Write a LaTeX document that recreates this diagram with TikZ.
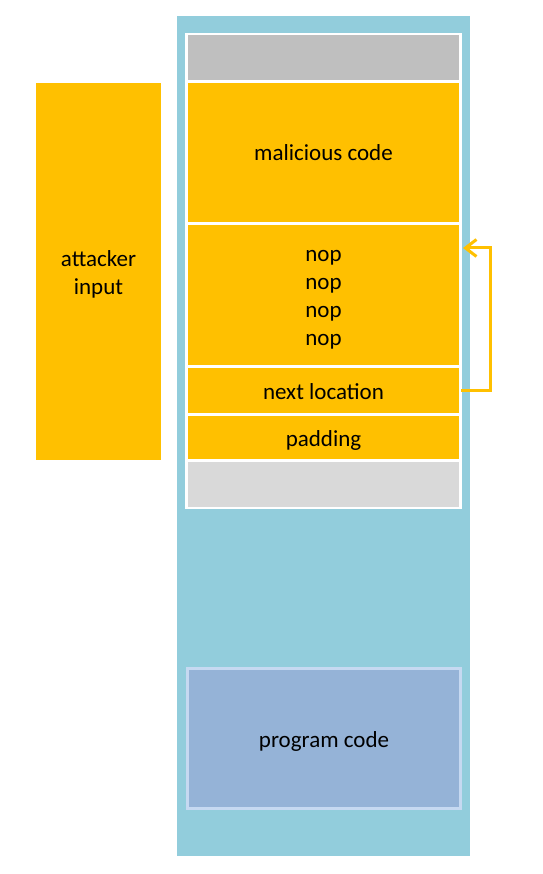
\documentclass[tikz,border=0pt]{standalone}
\usepackage{fontspec}
\setmainfont{Carlito}
\usetikzlibrary{arrows.meta,calc}
\definecolor{gold}{HTML}{FFC000}
\definecolor{panel}{HTML}{92CDDC}
\definecolor{darkgray}{HTML}{BFBFBF}
\definecolor{lightgray}{HTML}{D9D9D9}
\definecolor{progfill}{HTML}{95B3D7}
\definecolor{progedge}{HTML}{C6D9F1}
\definecolor{arrowc}{HTML}{FFC000}
\tikzset{
  lbl/.style={font=\fontsize{23}{28}\selectfont, text=black, align=center},
  blk/.style={rectangle, inner sep=0pt, outer sep=0pt, anchor=north west,
    minimum width=271pt, lbl},
  conn/.style={draw=arrowc, line width=3pt, -{Straight Barb[length=11pt,width=17pt,line width=3pt]}}
}
\begin{document}
\begin{tikzpicture}[x=1pt,y=-1pt]
\useasboundingbox (0,0) rectangle (542,874);
\fill[panel] (177,16) rectangle (470,856);
\fill[white] (185,33) rectangle (462,509);
\node[blk, fill=darkgray, minimum height=45pt] (top) at (188,35) {};
\node[blk, fill=gold, minimum height=139pt] (mal) at (188,83) {malicious code};
\node[blk, fill=gold, minimum height=140pt] (nop) at (188,225) {};
\node[lbl] (noptext) at ($(nop.center)+(0,5)$) {nop\\nop\\nop\\nop};
\node[blk, fill=gold, minimum height=45pt] (next) at (188,368) {};
\node[lbl] (nexttext) at ($(next.center)+(0,1)$) {next location};
\node[blk, fill=gold, minimum height=43pt] (pad) at (188,416) {};
\node[lbl] (padtext) at ($(pad.center)+(0,3)$) {padding};
\node[blk, fill=lightgray, minimum height=45pt] (bot) at (188,462) {};
\node[blk, fill=gold, minimum width=125pt, minimum height=377pt] (att) at (36,83) {};
\node[lbl] (attlabel) at (98.5,274) {attacker\\input};
\node[blk, fill=progfill, draw=progedge, line width=3pt, minimum width=273pt, minimum height=140pt] (prog) at (187.5,668.5) {};
\node[lbl] (progtext) at ($(prog.center)+(0,3)$) {program code};
\coordinate (ret) at (463,248);
\draw[conn] ($(next.east)+(2,0)$) -- (490,390.5) -- (490,248) -- (ret);
\end{tikzpicture}
\end{document}
